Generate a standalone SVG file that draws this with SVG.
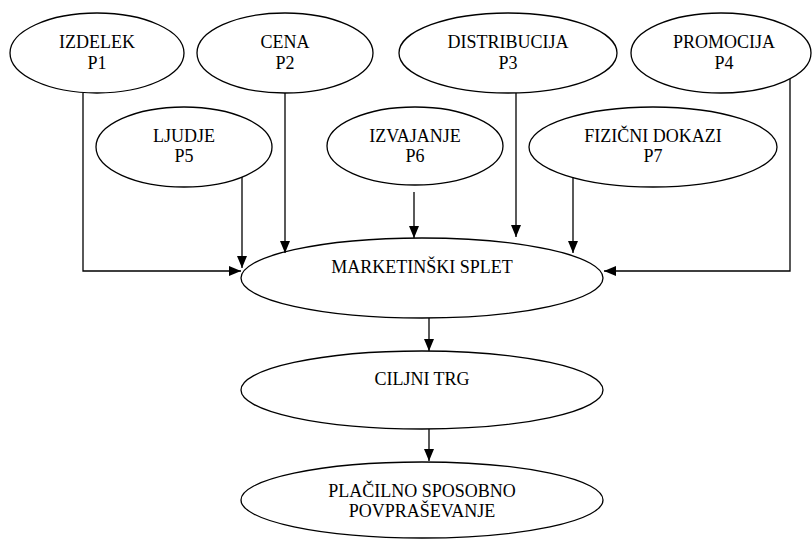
<svg xmlns="http://www.w3.org/2000/svg" width="812" height="539" viewBox="0 0 812 539">
<defs>
<style>
.n ellipse{fill:#fff;stroke:#000;stroke-width:1.3}
.n text{font-family:'Liberation Serif','DejaVu Serif',serif;font-size:18px;fill:#000;text-anchor:middle}
.c path{fill:none;stroke:#000;stroke-width:1.3;marker-end:url(#a)}
</style>
<marker id="a" viewBox="0 0 12 10" refX="12" refY="5" markerWidth="12" markerHeight="10" markerUnits="userSpaceOnUse" orient="auto">
<path d="M0,0 L12,5 L0,10 Z" fill="#000"/>
</marker>
</defs>
<rect width="812" height="539" fill="#fff"/>
<g id="p1" class="n"><ellipse cx="97" cy="53" rx="87" ry="40"/><text x="97" y="48">IZDELEK</text><text x="97" y="69">P1</text></g>
<g id="p2" class="n"><ellipse cx="285" cy="53" rx="88" ry="40"/><text x="285" y="48">CENA</text><text x="285" y="69">P2</text></g>
<g id="p3" class="n"><ellipse cx="508" cy="53" rx="109" ry="40"/><text x="508" y="48">DISTRIBUCIJA</text><text x="508" y="69">P3</text></g>
<g id="p4" class="n"><ellipse cx="721" cy="53" rx="90" ry="40"/><text x="724" y="48">PROMOCIJA</text><text x="724" y="69">P4</text></g>
<g id="p5" class="n"><ellipse cx="184" cy="147" rx="88" ry="40"/><text x="184" y="142">LJUDJE</text><text x="184" y="162">P5</text></g>
<g id="p6" class="n"><ellipse cx="415" cy="146" rx="88" ry="39"/><text x="415" y="142">IZVAJANJE</text><text x="415" y="162">P6</text></g>
<g id="p7" class="n"><ellipse cx="653" cy="147" rx="124" ry="40"/><text x="653" y="142">FIZIČNI DOKAZI</text><text x="653" y="162">P7</text></g>
<g id="ms" class="n"><ellipse cx="422" cy="278" rx="181" ry="40"/><text x="422" y="273">MARKETINŠKI SPLET</text></g>
<g id="ct" class="n"><ellipse cx="422" cy="390" rx="181" ry="39"/><text x="422" y="385">CILJNI TRG</text></g>
<g id="ps" class="n"><ellipse cx="422" cy="500" rx="181" ry="38"/><text x="422" y="497">PLAČILNO SPOSOBNO</text><text x="422" y="517">POVPRAŠEVANJE</text></g>
<g id="connectors" class="c">
<path d="M83,93 V271 H241"/>
<path d="M285,93 V253"/>
<path d="M516,93 V237"/>
<path d="M790,79 V271 H604"/>
<path d="M242,177 V268"/>
<path d="M414,192 V238"/>
<path d="M573,177 V253"/>
<path d="M429,318 V351"/>
<path d="M429,429 V461"/>
</g>
</svg>
